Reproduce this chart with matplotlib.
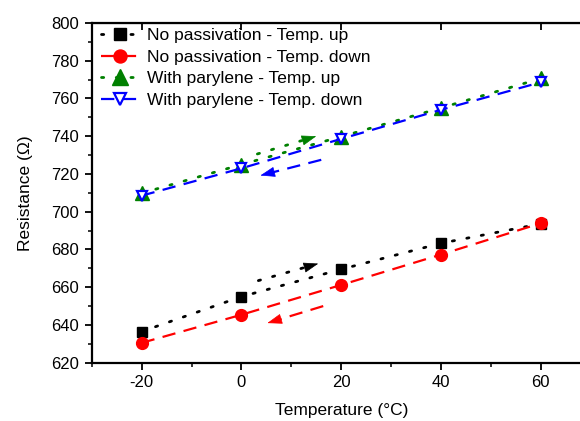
import matplotlib
matplotlib.use("Agg")
import matplotlib.pyplot as plt
from matplotlib.ticker import MultipleLocator

plt.rcParams['font.family'] = ['Liberation Sans', 'DejaVu Sans']
plt.rcParams['axes.unicode_minus'] = False

temps = [-20, 0, 20, 40, 60]
nopass_up = [636.5, 655.0, 669.5, 683.3, 693.6]
nopass_down = [630.5, 645.4, 661.2, 677.3, 693.9]
pary_up = [709.8, 725.0, 739.8, 755.0, 770.6]
pary_down = [708.5, 723.0, 738.6, 754.0, 768.6]

labels = ["No passivation - Temp. up", "No passivation - Temp. down",
          "With parylene - Temp. up", "With parylene - Temp. down"]

# arrow annotations: (x_start, y_start, x_end, y_end)
arrow_black = (3.4, 663.5, 15.4, 672.5)
arrow_red = (16.4, 650.0, 5.2, 641.0)
arrow_green = (3.2, 730.6, 15.0, 740.0)
arrow_blue = (16.0, 727.5, 3.8, 719.2)

fig = plt.figure(figsize=(5.8, 4.21), dpi=100)
ax = fig.add_axes([91.7/580, 1-362.7/421, (590.7-91.7)/580, (362.7-23)/421])

lw = 1.6
dot = (0, (0.8, 4.5))
dash = (0, (6, 3.8))
ax.plot(temps, nopass_up, color='black', linestyle=dot, lw=2.0,
        marker='s', markersize=7.5, label=labels[0], dash_capstyle='round')
ax.plot(temps, nopass_down, color='red', linestyle=dash, lw=lw,
        marker='o', markersize=8.5, label=labels[1])
ax.plot(temps, pary_up, color='green', linestyle=dot, lw=2.0,
        marker='^', markersize=10.5, label=labels[2], dash_capstyle='round')
ax.plot(temps, pary_down, color='blue', linestyle=dash, lw=lw,
        marker='v', markersize=7.5, markerfacecolor='white', markeredgewidth=1.6,
        label=labels[3])

def draw_arrow(a, color, ls, lwid, capstyle='butt'):
    x0, y0, x1, y1 = a
    f = 0.78
    xm, ym = x0 + (x1-x0)*f, y0 + (y1-y0)*f
    ax.plot([x0, xm], [y0, ym], color=color, linestyle=ls, lw=lwid,
            dash_capstyle=capstyle)
    ax.annotate("", xy=(x1, y1), xytext=(xm, ym),
                arrowprops=dict(arrowstyle='-|>,head_length=0.95,head_width=0.33',
                                color=color, lw=0.5, shrinkA=0, shrinkB=0))

draw_arrow(arrow_black, 'black', dot, 2.0, 'round')
draw_arrow(arrow_red, 'red', dash, lw)
draw_arrow(arrow_green, 'green', dot, 2.0, 'round')
draw_arrow(arrow_blue, 'blue', dash, lw)

ax.set_xlim(-30, 70)
ax.set_ylim(620, 800)
ax.xaxis.set_major_locator(MultipleLocator(20))
ax.xaxis.set_minor_locator(MultipleLocator(10))
ax.yaxis.set_major_locator(MultipleLocator(20))
ax.yaxis.set_minor_locator(MultipleLocator(10))
ax.tick_params(axis='both', which='major', direction='out', length=5, width=1.3,
               labelsize=12, pad=4)
ax.tick_params(axis='both', which='minor', direction='out', length=3, width=1.1)
ax.tick_params(axis='x', which='both', top=False)
ax.tick_params(axis='y', which='both', right=False)
for s in ax.spines.values():
    s.set_linewidth(1.6)

# top ticks inward
secx = ax.secondary_xaxis('top')
secx.xaxis.set_major_locator(MultipleLocator(20))
secx.tick_params(direction='in', length=5, width=1.3, labeltop=False)

ax.set_xlabel("Temperature (°C)", fontsize=12.5, labelpad=9)
ax.set_ylabel("Resistance (Ω)", fontsize=12.5, labelpad=13)

leg = ax.legend(loc='upper left', frameon=False, fontsize=12.5,
                handlelength=2.2, handletextpad=0.45, labelspacing=0.36,
                borderaxespad=0.0, bbox_to_anchor=(0.005, 1.005),
                markerscale=1.1)

fig.savefig("out.png", dpi=100)
